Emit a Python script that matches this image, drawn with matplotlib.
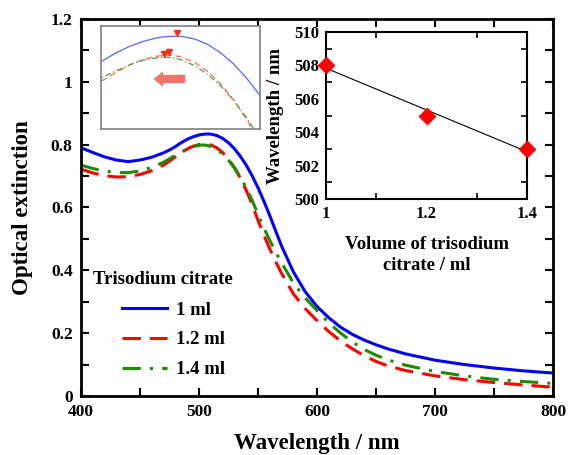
import numpy as np
import matplotlib
matplotlib.use('Agg')
import matplotlib.pyplot as plt
from matplotlib.ticker import MultipleLocator, FuncFormatter
from matplotlib.patches import FancyArrow

plt.rcParams['font.family'] = 'Liberation Serif'
plt.rcParams['font.weight'] = 'bold'

# Extinction spectra
wavelength = [400, 410, 420, 430, 440, 450, 460, 470, 475, 480, 485, 490, 495, 500, 503, 505, 508, 510,
              515, 520, 525, 530, 535, 540, 545, 550, 555, 560, 565, 570, 580, 590, 600, 610, 620, 630,
              640, 650, 660, 675, 700, 725, 750, 775, 800]
ext_1ml = [0.790, 0.775, 0.761, 0.751, 0.746, 0.751, 0.760, 0.774, 0.783, 0.794, 0.8065, 0.817, 0.825, 0.8307,
           0.8327, 0.8335, 0.834, 0.8336, 0.8292, 0.820, 0.806, 0.787, 0.763, 0.735, 0.701, 0.663, 0.620, 0.574,
           0.525, 0.477, 0.395, 0.332, 0.285, 0.249, 0.219, 0.196, 0.178, 0.163, 0.150, 0.134, 0.114, 0.100,
           0.089, 0.080, 0.073]
ext_12ml = [0.722, 0.710, 0.701, 0.697, 0.698, 0.705, 0.717, 0.735, 0.748, 0.761, 0.774, 0.786, 0.795, 0.8004,
            0.8017, 0.802, 0.8009, 0.799, 0.790, 0.775, 0.754, 0.727, 0.694, 0.655, 0.610, 0.559, 0.512, 0.468,
            0.428, 0.390, 0.325, 0.278, 0.240, 0.205, 0.175, 0.150, 0.128, 0.110, 0.096, 0.081, 0.064, 0.052,
            0.043, 0.035, 0.028]
ext_14ml = [0.735, 0.724, 0.716, 0.711, 0.711, 0.716, 0.728, 0.744, 0.755, 0.766, 0.7765, 0.786, 0.7935, 0.7978,
            0.799, 0.7986, 0.7965, 0.794, 0.7846, 0.770, 0.7506, 0.726, 0.697, 0.662, 0.623, 0.578, 0.535, 0.495,
            0.458, 0.424, 0.360, 0.312, 0.272, 0.233, 0.200, 0.172, 0.148, 0.130, 0.115, 0.098, 0.078, 0.064,
            0.053, 0.046, 0.040]

# Peak position vs citrate volume
volume = [1.0, 1.2, 1.4]
peak_wl = [508, 505, 503]

labels = ['1 ml', '1.2 ml', '1.4 ml']

fig = plt.figure(figsize=(5.68, 4.55), dpi=100)
ax = fig.add_axes([0.1426, 0.1297, 0.831, 0.8286])

ax.plot(wavelength, ext_1ml, color='#0000ff', lw=2.2, label=labels[0])
ax.plot(wavelength, ext_12ml, color='#ff0000', lw=2.2, dashes=(6, 3), label=labels[1])
ax.plot(wavelength, ext_14ml, color='#1e8a00', lw=2.2, dashes=(6, 3, 1, 3), label=labels[2])

ax.set_xlim(400, 800)
ax.set_ylim(0, 1.2)
ax.xaxis.set_major_locator(MultipleLocator(100))
ax.xaxis.set_minor_locator(MultipleLocator(50))
ax.yaxis.set_major_locator(MultipleLocator(0.2))
ax.yaxis.set_minor_locator(MultipleLocator(0.1))
ax.yaxis.set_major_formatter(FuncFormatter(lambda v, p: '%g' % round(v, 2)))
ax.tick_params(which='both', direction='in', top=True, right=True, width=1.5, labelsize=12.5, pad=6)
ax.tick_params(which='major', length=6)
ax.tick_params(which='minor', length=6)
for s in ax.spines.values():
    s.set_linewidth(2)
ax.set_xlabel('Wavelength / nm', fontsize=16.5, fontweight='bold', labelpad=9)
ax.set_ylabel('Optical extinction', fontsize=16.5, fontweight='bold', labelpad=13)

ax.text(0.025, 0.31, 'Trisodium citrate', transform=ax.transAxes, fontsize=13.5, fontweight='bold',
        va='center', ha='left')
ax.legend(loc='lower left', bbox_to_anchor=(0.06, 0.012), frameon=False, fontsize=13.5,
          handlelength=2.4, handletextpad=0.45, labelspacing=0.68, borderpad=0.2)

# zoomed peak inset
ax1 = fig.add_axes([0.1778, 0.7165, 0.28, 0.2264])
ax1.plot(wavelength, ext_1ml, color='#4f6bff', lw=0.9)
ax1.plot(wavelength, ext_12ml, color='#ff6a5a', lw=0.9, dashes=(5, 3))
ax1.plot(wavelength, ext_14ml, color='#4fa83a', lw=0.9, dashes=(5, 2, 1, 2))
for w, ys in zip(peak_wl, [ext_1ml, ext_12ml, ext_14ml]):
    ax1.plot(w, np.interp(w, wavelength, ys) + 0.005, marker='v', color='#ff2a1a', ms=4.5, ls='none')
ax1.add_patch(FancyArrow(0.53, 0.485, -0.14, 0, width=0.08, head_width=0.15, head_length=0.06,
                         length_includes_head=False, transform=ax1.transAxes, color='#f4736b', lw=0))
ax1.set_xlim(479, 540)
ax1.set_ylim(0.679, 0.851)
ax1.set_xticks([])
ax1.set_yticks([])
for s in ax1.spines.values():
    s.set_color('#808080')
    s.set_linewidth(1.2)

# peak shift inset
ax2 = fig.add_axes([0.574, 0.5626, 0.3539, 0.367])
fit = np.polyfit(volume, peak_wl, 1)
ax2.plot(volume, np.polyval(fit, volume), color='black', lw=0.8)
ax2.plot(volume, peak_wl, 'D', color='#ff0000', ms=8, clip_on=False, zorder=5)
ax2.set_xlim(1, 1.4)
ax2.set_ylim(500, 510)
ax2.set_xticks([1, 1.2, 1.4])
ax2.set_yticks([500, 502, 504, 506, 508, 510])
ax2.xaxis.set_minor_locator(MultipleLocator(0.1))
ax2.yaxis.set_minor_locator(MultipleLocator(1))
ax2.xaxis.set_major_formatter(FuncFormatter(lambda v, p: '%g' % round(v, 2)))
ax2.tick_params(which='both', direction='in', top=True, right=True, labelsize=12, width=1.2)
ax2.tick_params(which='major', length=0, pad=5)
ax2.tick_params(which='minor', length=4)
for s in ax2.spines.values():
    s.set_linewidth(1.5)
ax2.set_xlabel('Volume of trisodium\ncitrate / ml', fontsize=13.5, fontweight='bold', labelpad=10,
               linespacing=1.35)
ax2.set_ylabel('Wavelength / nm', fontsize=13.5, fontweight='bold', labelpad=7)

fig.savefig('out.png', dpi=100)
